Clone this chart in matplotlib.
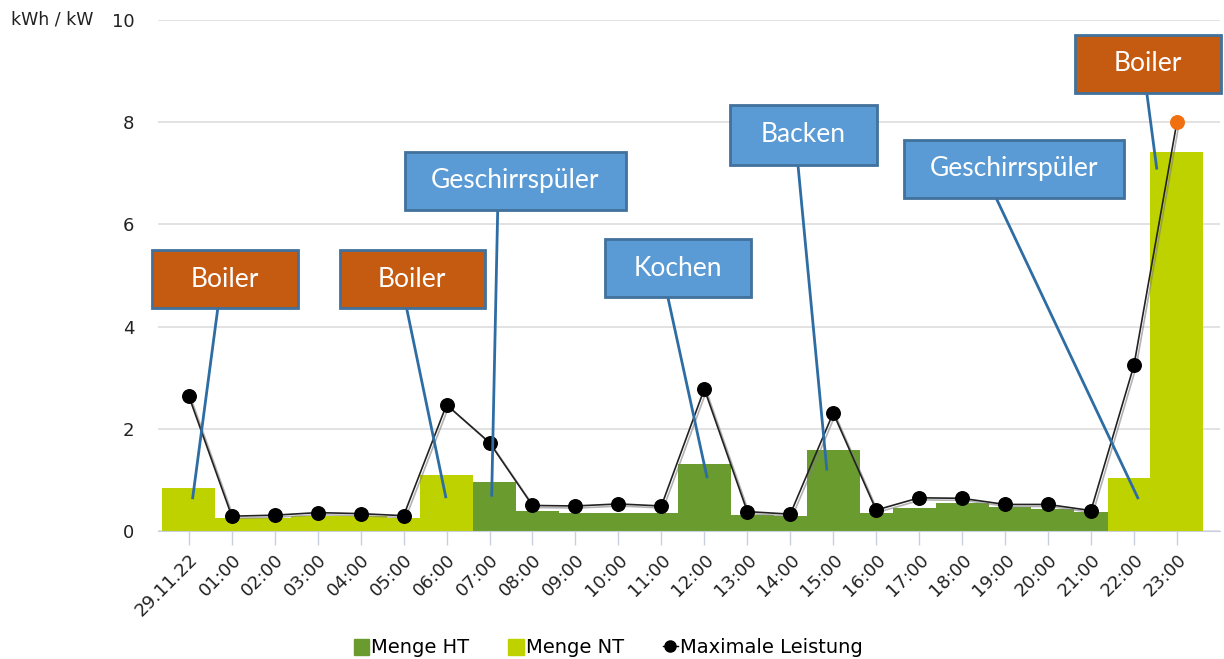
"""Stromverbrauch 29.11.22 mit Verbraucher-Markierungen"""

import matplotlib
matplotlib.use("Agg")
import matplotlib.pyplot as plt
import matplotlib.patheffects as pe
from matplotlib.lines import Line2D
from matplotlib.patches import Patch, Rectangle

# Daten
labels = ['29.11.22', '01:00', '02:00', '03:00', '04:00', '05:00', '06:00', '07:00',
          '08:00', '09:00', '10:00', '11:00', '12:00', '13:00', '14:00', '15:00',
          '16:00', '17:00', '18:00', '19:00', '20:00', '21:00', '22:00', '23:00']
menge_ht = [0, 0, 0, 0, 0, 0, 0, 0.96, 0.40, 0.35, 0.35, 0.35, 1.32, 0.32, 0.29, 1.58,
            0.35, 0.46, 0.55, 0.47, 0.44, 0.38, 0, 0]
menge_nt = [0.85, 0.26, 0.26, 0.30, 0.30, 0.26, 1.10, 0, 0, 0, 0, 0, 0, 0, 0, 0,
            0, 0, 0, 0, 0, 0, 1.04, 7.42]
max_leistung = [2.64, 0.29, 0.31, 0.36, 0.34, 0.30, 2.47, 1.73, 0.50, 0.49, 0.53, 0.49,
                2.78, 0.38, 0.33, 2.31, 0.41, 0.65, 0.64, 0.52, 0.52, 0.40, 3.24, 8.00]

# Markierungen: Text, Art, Kasten (x0, y0, x1, y1), Linienstart x, Spitze (x, y)
notizen = [
    ('Boiler', 'boiler', (-0.86, 4.36, 2.54, 5.50), 0.675, (0.09, 0.65)),
    ('Boiler', 'boiler', (3.51, 4.36, 6.89, 5.50), 5.07, (5.98, 0.67)),
    ('Geschirrspüler', 'geraet', (5.03, 6.28, 10.17, 7.42), 7.19, (7.05, 0.70)),
    ('Kochen', 'geraet', (9.68, 4.58, 13.08, 5.71), 11.15, (12.06, 1.06)),
    ('Backen', 'geraet', (12.59, 7.16, 16.01, 8.34), 14.18, (14.85, 1.21)),
    ('Geschirrspüler', 'geraet', (16.64, 6.52, 21.76, 7.65), 18.79, (22.09, 0.65)),
    ('Boiler', 'boiler', (20.62, 8.57, 24.02, 9.71), 22.30, (22.53, 7.10)),
]

farbe_ht = '#6a9b2e'
farbe_nt = '#bed200'
kasten_farben = {'boiler': '#c55a11', 'geraet': '#5b9bd5'}

fig = plt.figure(figsize=(12.24, 6.59), dpi=100)
ax = fig.add_axes([0.129, 0.1942, 0.8676, 0.7755])

x = list(range(len(labels)))
breite = 1.23

# Balken: hoehere Balken liegen oben
for i in x:
    for wert, farbe in ((menge_ht[i], farbe_ht), (menge_nt[i], farbe_nt)):
        if wert > 0:
            ax.bar(i, wert, width=breite, color=farbe, linewidth=0, zorder=2 + wert / 10)

# Linie maximale Leistung
ax.plot(x, max_leistung, color='#222222', linewidth=1.2, zorder=4,
        path_effects=[pe.SimpleLineShadow(offset=(1.5, -1.5), shadow_color='gray', alpha=0.6),
                      pe.Normal()])
ax.scatter(x[:-1], max_leistung[:-1], s=95, color='black', zorder=5)
ax.scatter(x[-1:], max_leistung[-1:], s=95, color='#f07010', zorder=5)

# Markierungen
for text, art, (x0, y0, x1, y1), lx, (tx, ty) in notizen:
    ax.plot([lx, tx], [y0, ty], color='#2e6da4', linewidth=2, zorder=6, clip_on=False)
    ax.add_patch(Rectangle((x0, y0), x1 - x0, y1 - y0, facecolor=kasten_farben[art],
                           edgecolor='#41719c', linewidth=2, zorder=7, clip_on=False))
    ax.text((x0 + x1) / 2, (y0 + y1) / 2, text, color='white', fontsize=19, family='Lato',
            ha='center', va='center', zorder=8, clip_on=False)

# Achsen
ax.set_xlim(-0.72, 24.0)
ax.set_ylim(0, 10)
ax.set_yticks([0, 2, 4, 6, 8, 10])
ax.set_xticks(x)
ax.set_xticklabels(labels, rotation=45, ha='right', rotation_mode='anchor')
ax.tick_params(axis='y', length=0, labelsize=13, pad=17, colors='#222222')
ax.tick_params(axis='x', length=10, width=1, color='#c8d0e0', labelsize=13,
               labelcolor='#222222', pad=4)
ax.grid(axis='y', color='#dddddd', linewidth=1.2)
ax.set_axisbelow(True)
for name in ('top', 'right', 'left'):
    ax.spines[name].set_visible(False)
ax.spines['bottom'].set_color('#c8d0e0')

fig.text(0.009, 0.9697, 'kWh / kW', fontsize=12.5, va='center', ha='left', color='#222222')

# Legende
handles = [Patch(color=farbe_ht, label='Menge HT'),
           Patch(color=farbe_nt, label='Menge NT'),
           Line2D([], [], color='black', marker='o', markersize=8, linewidth=1,
                  label='Maximale Leistung')]
fig.legend(handles=handles, loc='center', bbox_to_anchor=(0.497, 0.017), ncol=3,
           frameon=False, fontsize=14, handlelength=0.8, handleheight=0.9,
           handletextpad=0.1, columnspacing=2.0)

fig.savefig('out.png', dpi=100)
